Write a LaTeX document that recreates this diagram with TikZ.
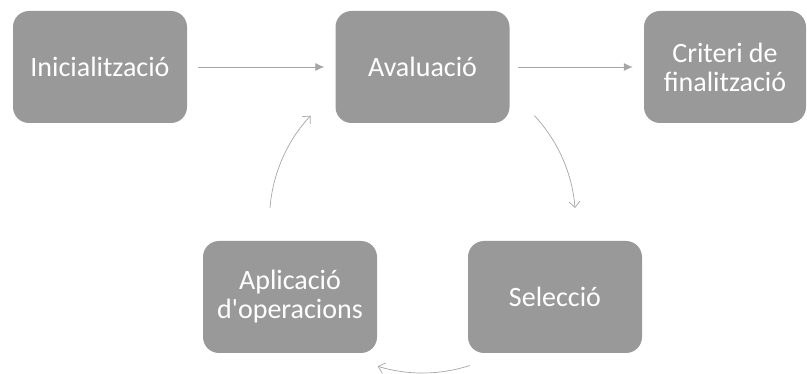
\documentclass[tikz,border=0pt]{standalone}
\usepackage{fontspec}
\setmainfont{Carlito}
\usetikzlibrary{arrows.meta}
\definecolor{boxgray}{HTML}{999999}
\definecolor{linegray}{HTML}{A6A6A6}
\begin{document}
\begin{tikzpicture}[x=1pt,y=-1pt,
  stepbox/.style={rectangle, rounded corners=16pt, fill=boxgray, text=white,
    minimum width=174pt, minimum height=112pt, inner sep=0pt, align=center,
    font=\fontsize{28}{29}\selectfont},
  flow/.style={draw=linegray, line width=0.8pt, -{Latex[length=9pt,width=8pt]}},
  cycle/.style={draw=linegray, line width=0.7pt, -{Straight Barb[length=6pt,width=11pt]}}]
  \useasboundingbox (0,0) rectangle (807,374);
  % main boxes
  \node[stepbox] (init) at (100,67) {Inicialització};
  \node[stepbox] (eval) at (422.5,67) {Avaluació};
  \node[stepbox, minimum width=162pt] (crit) at (725,67) {Criteri de\\finalització};
  \node[stepbox] (apl) at (290,297) {Aplicació\\d\textquotesingle operacions};
  \node[stepbox] (sel) at (555,297) {Selecció};
  % straight connectors
  \coordinate (a1s) at (198,67);
  \coordinate (a2s) at (518,67);
  \draw[flow] (a1s) -- ([xshift=-11pt]eval.west);
  \draw[flow] (a2s) -- ([xshift=-11pt]crit.west);
  % cycle around the ring (centre 422.5,220, radius 153)
  \coordinate (ring) at (422.5,220);
  \draw[cycle] ([shift={(43:153pt)}]ring) arc[start angle=43, end angle=4.5, radius=153pt];
  \draw[cycle] ([shift={(-72:153pt)}]ring) arc[start angle=-72, end angle=-107, radius=153pt];
  \draw[cycle] ([shift={(175.5:153pt)}]ring) arc[start angle=175.5, end angle=137, radius=153pt];
\end{tikzpicture}
\end{document}
